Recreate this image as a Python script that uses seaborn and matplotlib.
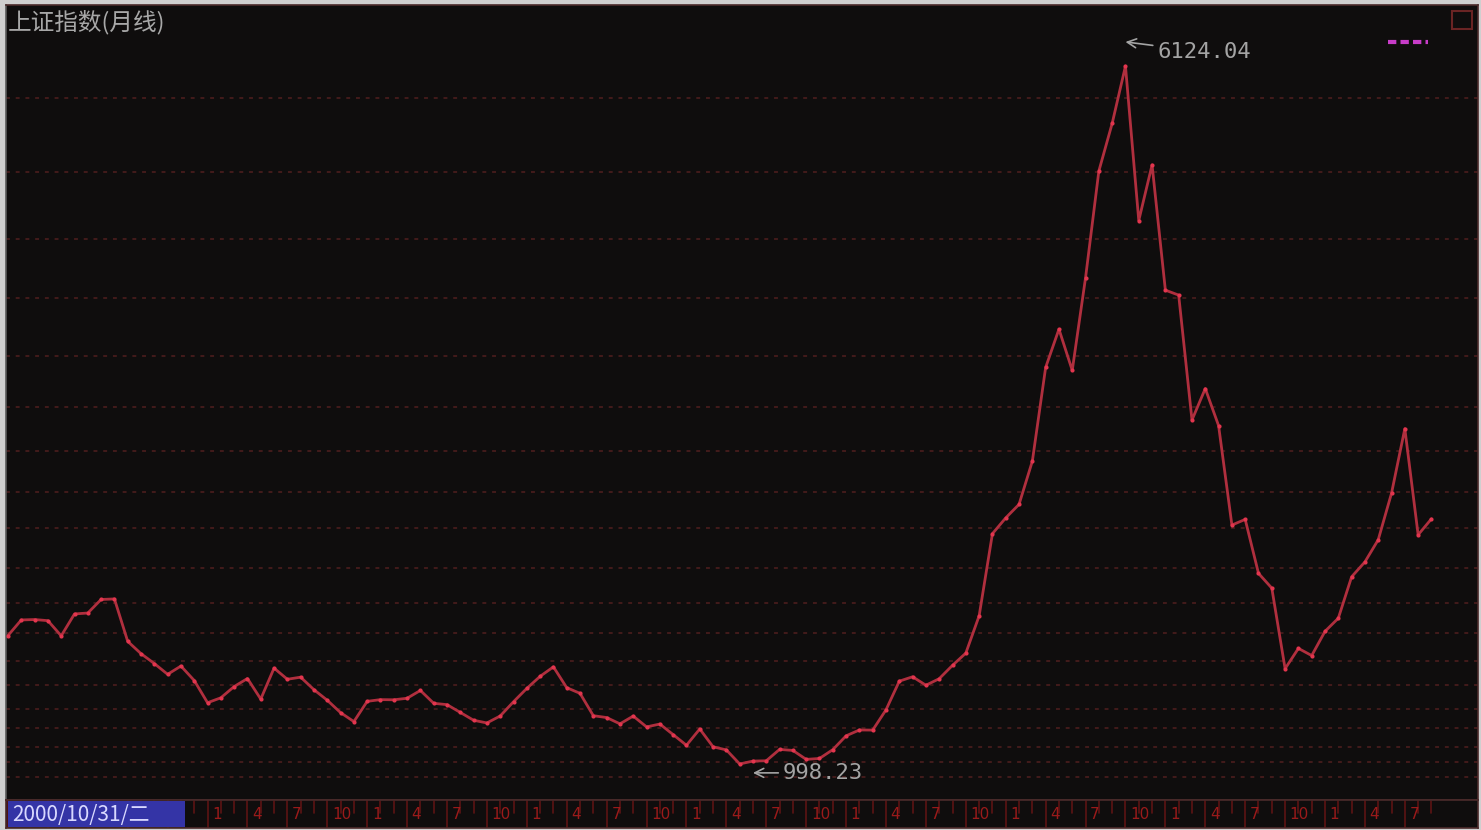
import pandas as pd
import numpy as np
import matplotlib
matplotlib.use('Agg')
import matplotlib.pyplot as plt
from matplotlib.patches import Rectangle
import seaborn as sns

# Monthly closes of the Shanghai Composite, 2000/10 .. 2009/9
start_month = '2000-10'
closes_2000 = [1961.28, 2070.61, 2073.48]
closes_2001 = [2065.59, 1959.19, 2112.85, 2119.18, 2214.26, 2218.03,
               1920.32, 1834.11, 1764.90, 1689.43, 1747.36, 1645.97]
closes_2002 = [1490.10, 1524.73, 1603.46, 1660.00, 1515.73, 1732.80,
               1654.65, 1669.38, 1581.43, 1507.35, 1420.69, 1357.65]
closes_2003 = [1499.81, 1511.93, 1510.71, 1521.44, 1576.26, 1486.01,
               1476.74, 1421.99, 1367.16, 1348.30, 1397.22, 1497.04]
closes_2004 = [1590.73, 1675.07, 1741.62, 1595.59, 1555.91, 1399.16,
               1386.20, 1342.06, 1396.70, 1320.54, 1340.77, 1266.50]
closes_2005 = [1191.82, 1306.00, 1181.24, 1159.15, 1060.74, 1080.94,
               1083.03, 1162.80, 1155.61, 1092.82, 1099.26, 1161.06]
closes_2006 = [1258.05, 1299.03, 1298.30, 1440.22, 1641.30, 1672.21,
               1612.73, 1658.64, 1752.42, 1837.99, 2099.29, 2675.47]
closes_2007 = [2786.34, 2881.07, 3183.98, 3841.27, 4109.65, 3820.70,
               4471.03, 5218.83, 5552.30, 5954.77, 4871.78, 5261.56]
closes_2008 = [4383.39, 4348.54, 3472.71, 3693.11, 3433.35, 2736.10,
               2775.72, 2397.37, 2293.78, 1728.79, 1871.16, 1820.81]
closes_2009 = [1990.66, 2082.85, 2373.21, 2477.57, 2632.93, 2959.36,
               3412.06, 2667.75, 2779.43]

high_value = 6124.04   # 2007/10
low_value = 998.23     # 2005/6
title_text = '上证指数(月线)'
cursor_text = '2000/10/31/二'
label_months = [1, 4, 7, 10]

# horizontal dotted grid levels as drawn by the software
grid_levels = [5731, 5212, 4743, 4329, 3922, 3565, 3256, 2968, 2716, 2435,
               2190, 1980, 1783, 1615, 1447, 1313, 1180, 1075, 970]

closes = (closes_2000 + closes_2001 + closes_2002 + closes_2003 + closes_2004 +
          closes_2005 + closes_2006 + closes_2007 + closes_2008 + closes_2009)
dates = pd.date_range(start_month, periods=len(closes), freq='MS')
df = pd.DataFrame({'idx': np.arange(len(closes)), 'close': closes, 'date': dates})

high_idx = int(np.argmax(df['close']))
low_idx = int(df.index[df['date'] == pd.Timestamp('2005-06-01')][0])

sns.set_theme(style='dark')
plt.rcParams['font.family'] = ['Noto Sans CJK SC', 'DejaVu Sans']

BG = '#0f0d0d'
LINE = '#b02f3e'
GRID = '#431b1b'
AXRED = '#9a1a1a'
XMIN, XMAX = -0.15, 110.5
BOX_END = 0.1216  # cursor box right edge, axes fraction

fig = plt.figure(figsize=(14.81, 8.30), dpi=100, facecolor='#cfcfcf')
ax = fig.add_axes([6 / 1481, 1 - 800 / 830, 1472 / 1481, 795 / 830])
ax_x = fig.add_axes([6 / 1481, 2 / 830, 1472 / 1481, 28 / 830], sharex=ax)

for a in (ax, ax_x):
    a.set_facecolor(BG)
    for s in a.spines.values():
        s.set_color('#4a2a2a')
        s.set_linewidth(1.2)
ax.spines['left'].set_color('#5a5a5a')

for g in grid_levels:
    ax.axhline(g, color=GRID, lw=1.4, ls=(0, (2, 3)), zorder=1)

sns.lineplot(data=df, x='idx', y='close', ax=ax, color=LINE, lw=2.0,
             marker='o', markersize=3, markeredgewidth=0,
             markerfacecolor='#e3354e', zorder=3)

ax.set_xlim(XMIN, XMAX)
ax.set_ylim(808, 6383)
ax.set_xticks([])
ax.set_yticks([])
ax.set_xlabel('')
ax.set_ylabel('')
ax.grid(False)

ax.text(0.0015, 0.994, title_text, transform=ax.transAxes, ha='left', va='top',
        color='#a8a8a8', fontsize=17)

ann_kw = dict(textcoords='offset pixels', ha='left', va='center',
              color='#a4a4a4', fontsize=16, family=['DejaVu Sans Mono'],
              arrowprops=dict(arrowstyle='->', color='#a4a4a4', lw=1.2,
                              shrinkA=1, shrinkB=0))
ax.annotate(f'{high_value:.2f}', xy=(high_idx, high_value), xytext=(32, -10), **ann_kw)
ax.annotate(f'{low_value:.2f}', xy=(low_idx, low_value), xytext=(30, 0), **ann_kw)

# small legend swatch and window box at the top right
ax.plot([0.939, 0.966], [0.953, 0.953], transform=ax.transAxes,
        color='#c83cc8', lw=3, ls=(0, (2, 1)), zorder=4)
ax.add_patch(Rectangle((0.9825, 0.970), 0.0135, 0.022, transform=ax.transAxes,
                       fill=False, edgecolor='#6a2424', lw=1.5))

# bottom date strip
ax_x.set_ylim(0, 1)
ax_x.set_yticks([])
ax_x.grid(False)
ax_x.tick_params(axis='x', length=0, labelbottom=False)
for i, d in zip(df['idx'], df['date']):
    frac = (i - XMIN) / (XMAX - XMIN)
    if d.month in label_months:
        ax_x.plot([i, i], [0, 1], color='#5c1414', lw=1.2)
        if frac > BOX_END:
            ax_x.text(i + 0.35, 0.48, str(d.month), color=AXRED, fontsize=11,
                      ha='left', va='center', family=['DejaVu Sans'])
    else:
        ax_x.plot([i, i], [0.55, 0.95], color='#5c1414', lw=1.2)
ax_x.add_patch(Rectangle((0.0014, 0.05), BOX_END - 0.0014, 0.9,
                         transform=ax_x.transAxes, facecolor='#3434a6',
                         edgecolor='none', zorder=5))
ax_x.text(0.004, 0.48, cursor_text, transform=ax_x.transAxes, ha='left',
          va='center', color='#d8d8ff', fontsize=15, zorder=6)

fig.savefig('out.png', dpi=100, facecolor=fig.get_facecolor())
